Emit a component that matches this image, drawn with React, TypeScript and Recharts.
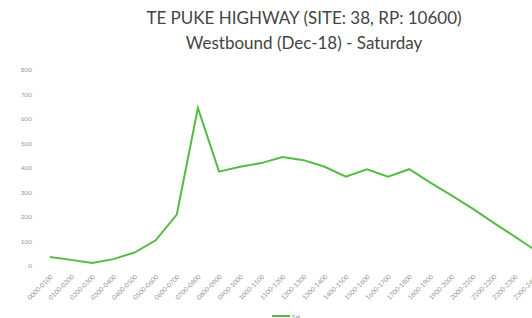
import React from 'react';
import { LineChart, Line, XAxis, YAxis, Legend } from 'recharts';

const hours = [
  '0000-0100', '0100-0200', '0200-0300', '0300-0400', '0400-0500', '0500-0600',
  '0600-0700', '0700-0800', '0800-0900', '0900-1000', '1000-1100', '1100-1200',
  '1200-1300', '1300-1400', '1400-1500', '1500-1600', '1600-1700', '1700-1800',
  '1800-1900', '1900-2000', '2000-2100', '2100-2200', '2200-2300', '2300-2400',
];
const satValues = [37, 25, 12, 28, 55, 105, 210, 645, 385, 405, 420, 445, 432, 405, 365, 395, 365, 395, 340, 288, 234, 176, 120, 62];
const yTicks = [0, 100, 200, 300, 400, 500, 600, 700, 800];

const data = hours.map((h, i) => ({ hour: h, Sat: satValues[i] }));

const GREEN = '#55bb44';

const renderLegend = (props: any) => {
  const { payload } = props;
  return (
    <div style={{ height: 28, display: 'flex', justifyContent: 'center', alignItems: 'center', paddingLeft: 36 }}>
      {(payload || []).map((p: any) => (
        <div key={p.value} style={{ display: 'flex', alignItems: 'center', gap: 2 }}>
          <svg width={18} height={4}>
            <line x1={0} y1={2} x2={18} y2={2} stroke={p.color} strokeWidth={2} />
          </svg>
          <span style={{ fontSize: 6, color: '#888', fontFamily: 'Lato, sans-serif' }}>{p.value}</span>
        </div>
      ))}
    </div>
  );
};

export default function App() {
  return (
    <div style={{ position: 'absolute', left: 0, top: 0, width: 532, height: 318, overflow: 'hidden', background: '#fff' }}>
      <div style={{ position: 'absolute', left: 0, width: 608, top: 5, textAlign: 'center', fontFamily: 'Lato, sans-serif', fontSize: 17, lineHeight: '25px', color: '#444' }}>
        <div>TE PUKE HIGHWAY (SITE: 38, RP: 10600)</div>
        <div>Westbound (Dec-18) - Saturday</div>
      </div>
      <LineChart width={574} height={330} data={data} margin={{ top: 70, right: 38, bottom: 0, left: 0 }}>
        <XAxis
          dataKey="hour"
          interval={0}
          tickLine={false}
          axisLine={false}
          angle={-45}
          textAnchor="end"
          height={36}
          padding={{ left: 0, right: 0 }}
          tick={{ fontSize: 6.5, fill: '#999', fontFamily: 'Lato, sans-serif' }}
        />
        <YAxis
          domain={[0, 800]}
          ticks={yTicks}
          width={50}
          tickLine={false}
          axisLine={false}
          tickMargin={12}
          tick={{ fontSize: 6.5, fill: '#999', fontFamily: 'Lato, sans-serif' }}
        />
        <Legend verticalAlign="bottom" content={renderLegend} />
        <Line type="linear" dataKey="Sat" stroke={GREEN} strokeWidth={2} dot={false} isAnimationActive={false} />
      </LineChart>
    </div>
  );
}
